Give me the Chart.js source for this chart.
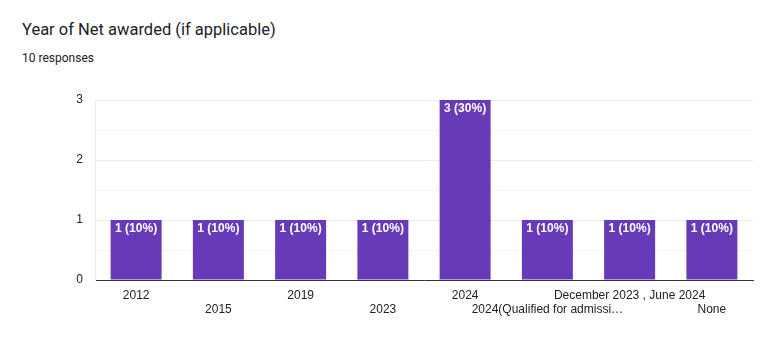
<!DOCTYPE html>
<html>
<head>
<meta charset="utf-8">
<script src="https://cdn.jsdelivr.net/npm/chart.js@4"></script>
<style>
  body { margin: 0; background: #fff; }
  #wrap { position: relative; width: 760px; height: 353px; }
  #title { position: absolute; left: 22px; top: 20px; font: 16.5px Roboto, sans-serif; color: #202124; }
  #sub { position: absolute; left: 22px; top: 51px; font: 12px Roboto, sans-serif; color: #202124; }
  canvas { position: absolute; left: 0; top: 0; }
</style>
</head>
<body>
<div id="wrap">
  <div id="title">Year of Net awarded (if applicable)</div>
  <div id="sub">10 responses</div>
  <canvas id="chart" width="760" height="353"></canvas>
</div>
<script>
// data
const categories = ['2012', '2015', '2019', '2023', '2024', '2024(Qualified for admissi…', 'December 2023 , June 2024', 'None'];
const counts = [1, 1, 1, 1, 3, 1, 1, 1];
const totalResponses = 10;
const yTicks = [0, 1, 2, 3];

const barColor = '#673ab7';

// label inside the top of each bar, like "1 (10%)"
const barLabels = {
    id: 'barLabels',
    afterDatasetsDraw(chart) {
        const ctx = chart.ctx;
        const meta = chart.getDatasetMeta(0);
        ctx.save();
        ctx.fillStyle = '#fff';
        ctx.font = 'bold 12px "Liberation Sans", Arial, sans-serif';
        ctx.textAlign = 'center';
        ctx.textBaseline = 'top';
        meta.data.forEach((bar, i) => {
            const v = counts[i];
            const pct = Math.round(v / totalResponses * 100);
            ctx.fillText(v + ' (' + pct + '%)', bar.x, bar.y + 3);
        });
        ctx.restore();
    }
};

new Chart(document.getElementById('chart'), {
    type: 'bar',
    data: {
        labels: categories,
        datasets: [{
            data: counts,
            backgroundColor: barColor,
            borderWidth: 0,
            categoryPercentage: 1,
            barPercentage: 0.62
        }]
    },
    options: {
        responsive: false,
        animation: false,
        layout: { padding: { top: 100, right: 7, left: 0, bottom: 0 } },
        plugins: {
            legend: { display: false },
            tooltip: { enabled: false }
        },
        scales: {
            x: {
                grid: { display: false },
                border: { display: true, color: '#333', width: 1 },
                ticks: {
                    autoSkip: false,
                    maxRotation: 0,
                    padding: 0,
                    color: '#222',
                    font: { family: '"Liberation Sans", Arial, sans-serif', size: 12, lineHeight: 1.2 },
                    // stagger the labels on two rows
                    callback: (val, i) => i % 2 ? ['', categories[i]] : categories[i]
                },
                afterFit: s => { s.height = 73; }
            },
            y: {
                min: 0,
                max: 3,
                ticks: {
                    stepSize: 0.5,
                    padding: 12,
                    color: '#222',
                    font: { family: '"Liberation Sans", Arial, sans-serif', size: 12 },
                    callback: v => yTicks.includes(v) ? v : ''
                },
                grid: {
                    drawTicks: false,
                    color: c => (c.tick && Number.isInteger(c.tick.value)) ? '#ebebeb' : '#f5f5f5'
                },
                border: { display: true, color: '#ebebeb' },
                afterFit: s => { s.width = 95; }
            }
        }
    },
    plugins: [barLabels]
});
</script>
</body>
</html>
